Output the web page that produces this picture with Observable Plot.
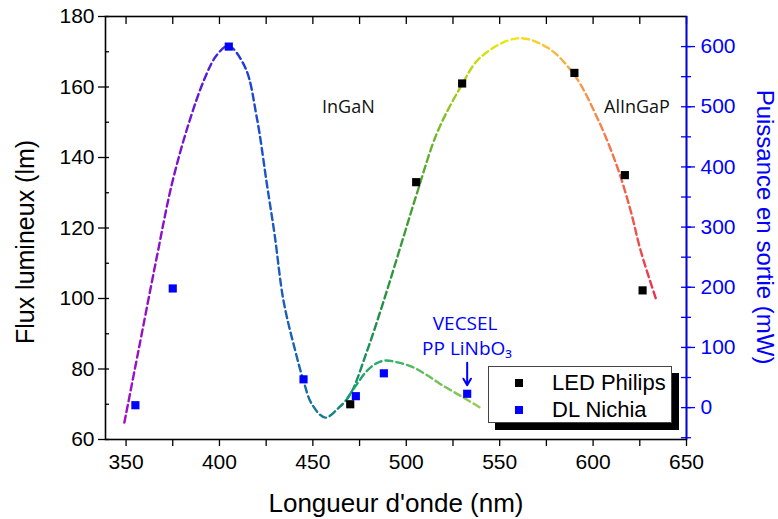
<!DOCTYPE html>
<html><head><meta charset="utf-8">
<script src="https://cdn.jsdelivr.net/npm/d3@7"></script>
<script src="https://cdn.jsdelivr.net/npm/@observablehq/plot@0.6"></script>
<style>
body{margin:0;background:#fff;}
#wrap{position:relative;width:778px;height:519px;}
#legend{position:absolute;left:488px;top:366px;width:182px;height:55px;border:1px solid #444;background:#fff;box-shadow:7px 7px 0 #000;font-family:"Liberation Sans",Arial,sans-serif;font-size:22px;color:#000;}
.lrow{position:absolute;left:0;height:26px;line-height:26px;white-space:nowrap;}
.lsq{position:absolute;left:26px;top:9px;width:8px;height:8px;}
.ltx{position:absolute;left:63px;top:0;}
</style></head><body><div id="wrap"></div>
<script>
// LED Philips (flux, lm)
const ledX = [470, 505.3, 529.9, 590, 617, 626.5];
const ledY = [70, 133, 161, 164, 135, 102.3];
// DL Nichia (output power, mW)
const dlX = [355, 375, 405, 445, 473, 488, 532.6];
const dlMW = [4, 198, 600, 47, 19, 57, 23];
// Dashed guide curve 1 (lm)
const fit1X = [349.1, 356.6, 366.4, 374.5, 383.4, 392.3, 398.5, 404.8, 413.8, 420.0, 425.4, 429.5, 434.3, 440.6, 445.0, 449.5, 456.6, 463.8, 470.0, 479.0, 487.9, 496.8, 505.8, 516.5, 529.0, 539.7, 559.4, 575.5, 589.7, 602.2, 613.0, 620.1, 625.5, 633.9];
const fit1Y = [64.8, 85.1, 111.6, 132.4, 149.4, 162.7, 169.0, 171.7, 165.5, 151.3, 132.4, 118.2, 99.3, 85.1, 76.6, 70.0, 66.2, 69.0, 72.8, 85.1, 99.3, 114.5, 130.0, 147.0, 159.9, 168.4, 173.8, 171.2, 163.6, 151.3, 137.2, 124.9, 113.5, 99.5];
// Dashed guide curve 2 (lm)
const fit2X = [468.5, 474, 479, 484, 488.8, 496, 504, 511, 518.3, 529, 539.7];
const fit2Y = [71.8, 76.0, 79.5, 81.6, 82.4, 81.8, 80.4, 78.3, 75.7, 72.4, 69.0];
// Gradient colour stops (wavelength nm, colour)
const spec1Nm = [350, 380, 400, 412, 425, 445, 458, 472, 485, 505, 522, 540, 556, 572, 588, 605, 620, 634];
const spec1Col = ["#a10ec4", "#7a14cf", "#3f22e0", "#2238dc", "#1a55cc", "#1a6aa6", "#13808c", "#15906a", "#1f9048", "#4aa036", "#8cc224", "#cfe00c", "#f0ea10", "#f8c838", "#f8a444", "#f6804a", "#f0584c", "#e83050"];
const spec2Nm = [468.5, 490, 515, 539.7];
const spec2Col = ["#1aa070", "#32b068", "#6cc058", "#98cc50"];
// Axes
const xTicks = [350, 375, 400, 425, 450, 475, 500, 525, 550, 575, 600, 625, 650];
const yTicks = [60, 80, 100, 120, 140, 160, 180];
const yMinor = [60, 70, 80, 90, 100, 110, 120, 130, 140, 150, 160, 170, 180];
const mwTicks = [0, 100, 200, 300, 400, 500, 600];
const mwMinor = [-50, 0, 50, 100, 150, 200, 250, 300, 350, 400, 450, 500, 550, 600];
const annotBlack = [{x: 469, y: 154.2, t: "InGaN"}, {x: 623.5, y: 154.2, t: "AlInGaP"}];
const annotBlue = [{x: 531.5, y: 92.7, t: "VECSEL"}, {x: 532.5, y: 85.6, t: "PP LiNbO₃"}];
const arrows = [{x: 532.6, y1: 81.8, y2: 75.4}];
const seriesNames = ["LED Philips", "DL Nichia"];
const seriesColors = ["#000000", "#0000ff"];

const BLUE = "#0000ff";
const mw2lm = d3.scaleLinear().domain([-53, 650]).range([60, 180]);
const led = ledX.map((x, i) => ({x, y: ledY[i]}));
const dl = dlX.map((x, i) => ({x, y: mw2lm(dlMW[i])}));
const fit1 = fit1X.map((x, i) => ({x, y: fit1Y[i]}));
const fit2 = fit2X.map((x, i) => ({x, y: fit2Y[i]}));

const W = 778, H = 519, mT = 16, mB = 80, mL = 105, mR = 92;
const innerW = W - mL - mR, innerH = H - mT - mB;
const font = "'Liberation Sans', Arial, sans-serif";
const cal = "'Open Sans', 'Noto Sans', sans-serif";

const chart = Plot.plot({
  width: W, height: H,
  marginTop: mT, marginBottom: mB, marginLeft: mL, marginRight: mR,
  style: {fontFamily: font, fontSize: "21px", background: "#fff", color: "#000"},
  x: {domain: [339, 650]},
  y: {domain: [60, 180]},
  marks: [
    Plot.line(fit1, {x: "x", y: "y", curve: "catmull-rom", stroke: "url(#spec1)", strokeWidth: 2.4, strokeDasharray: "7,4"}),
    Plot.line(fit2, {x: "x", y: "y", curve: "catmull-rom", stroke: "url(#spec2)", strokeWidth: 2.4, strokeDasharray: "7,4"}),
    // inward ticks
    Plot.tickX(xTicks, {x: d => d, insetBottom: innerH - 8, stroke: "#000", strokeWidth: 1.3}),
    Plot.tickY(yMinor, {y: d => d, insetRight: innerW - 4, stroke: "#000", strokeWidth: 1.3}),
    Plot.tickY(mwMinor.map(mw2lm), {y: d => d, insetLeft: innerW - 5, stroke: BLUE, strokeWidth: 1.3}),
    Plot.frame({stroke: "#000", strokeWidth: 1.6}),
    Plot.ruleX([650], {stroke: BLUE, strokeWidth: 1.6}),
    Plot.axisX(xTicks, {anchor: "bottom", tickSize: 7, tickPadding: 8, fontSize: 21, tickFormat: d => d % 50 === 0 ? String(d) : "", label: null, strokeWidth: 1.3}),
    Plot.axisY(yTicks, {anchor: "left", tickSize: 7, tickPadding: 4, fontSize: 21, label: null, strokeWidth: 1.3}),
    Plot.axisY(mwMinor.map(mw2lm), {anchor: "right", tickSize: 4, tickFormat: () => "", label: null, color: BLUE, strokeWidth: 1.3}),
    Plot.axisY(mwTicks.map(mw2lm), {anchor: "right", tickSize: 8, tickPadding: 6, fontSize: 21, tickFormat: d => String(Math.round(mw2lm.invert(d))), label: null, color: BLUE, strokeWidth: 1.3}),
    Plot.dot(led, {x: "x", y: "y", symbol: "square", r: 4.6, fill: "#000", stroke: null}),
    Plot.dot(dl, {x: "x", y: "y", symbol: "square", r: 4.6, fill: BLUE, stroke: null}),
    Plot.text(annotBlack, {x: "x", y: "y", text: "t", fontFamily: cal, fontSize: 18, fill: "#111"}),
    Plot.text(annotBlue, {x: "x", y: "y", text: "t", fontFamily: cal, fontSize: 19, fill: BLUE}),
    Plot.arrow(arrows, {x: "x", y1: "y1", y2: "y2", stroke: BLUE, strokeWidth: 2, headLength: 9, headAngle: 60}),
    // axis titles
    Plot.text(["Longueur d'onde (nm)"], {frameAnchor: "bottom", textAnchor: "middle", lineAnchor: "middle", dy: 64, fontSize: 26, fontFamily: font, fill: "#000"}),
    Plot.text(["Flux lumineux (lm)"], {frameAnchor: "left", textAnchor: "middle", lineAnchor: "middle", dx: -80, dy: 14, rotate: -90, fontSize: 25, fontFamily: font, fill: "#000"}),
    Plot.text(["Puissance en sortie (mW)"], {frameAnchor: "right", textAnchor: "middle", lineAnchor: "middle", dx: 78, dy: -1, rotate: 90, fontSize: 24, fontFamily: font, fill: BLUE})
  ]
});

// spectral gradients
function addGrad(id, nms, cols, lo, hi) {
  const g = d3.create("svg:linearGradient").attr("id", id)
    .attr("x1", 0).attr("x2", 1).attr("y1", 0).attr("y2", 0);
  nms.forEach((n, i) => g.append("stop")
    .attr("offset", Math.max(0, Math.min(1, (n - lo) / (hi - lo))))
    .attr("stop-color", cols[i]));
  return g.node();
}
const defs = document.createElementNS("http://www.w3.org/2000/svg", "defs");
defs.appendChild(addGrad("spec1", spec1Nm, spec1Col, d3.min(fit1X), d3.max(fit1X)));
defs.appendChild(addGrad("spec2", spec2Nm, spec2Col, d3.min(fit2X), d3.max(fit2X)));
chart.insertBefore(defs, chart.firstChild);

const wrap = document.getElementById("wrap");
wrap.appendChild(chart);

// legend
const leg = document.createElement("div");
leg.id = "legend";
seriesNames.forEach((name, i) => {
  const row = document.createElement("div");
  row.className = "lrow";
  row.style.top = (3 + i * 27) + "px";
  row.style.width = "180px";
  const sq = document.createElement("div");
  sq.className = "lsq";
  sq.style.background = seriesColors[i];
  const tx = document.createElement("div");
  tx.className = "ltx";
  tx.textContent = name;
  row.appendChild(sq); row.appendChild(tx);
  leg.appendChild(row);
});
wrap.appendChild(leg);
</script></body></html>
